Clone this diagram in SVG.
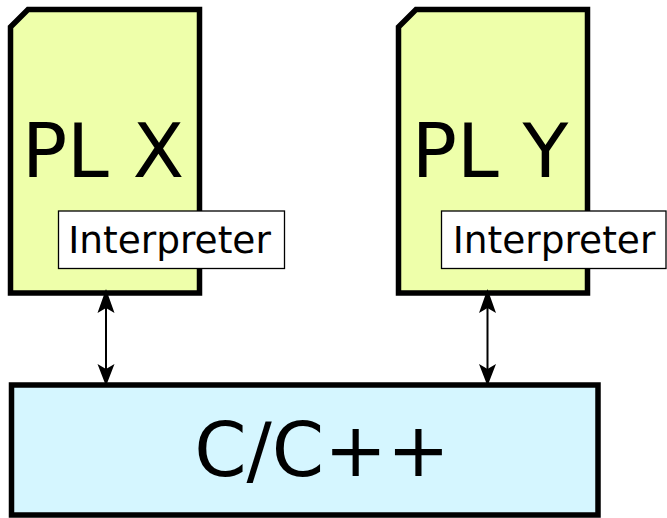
<svg xmlns="http://www.w3.org/2000/svg" width="667" height="518" viewBox="0 0 667 518">
<style>
.pl{fill:#eeffaa;stroke:#000;stroke-width:5.5}
.cc{fill:#d5f6ff;stroke:#000;stroke-width:5.5}
.ib{fill:#fff;stroke:#000;stroke-width:1.3}
.big{font-family:"DejaVu Sans",sans-serif;font-size:75px;fill:#000;text-anchor:middle}
.small{font-family:"DejaVu Sans",sans-serif;font-size:37.5px;fill:#000;text-anchor:middle}
.ln{stroke:#000;stroke-width:2;fill:none}
.ah{fill:#000;stroke:none}
</style>
<g id="cpp">
<rect class="cc" x="11.5" y="385" width="586.5" height="130"/>
<text class="big" x="322" y="476">C/C++</text>
</g>
<g id="plx">
<path class="pl" d="M10.5,27 L28,9.5 L199.5,9.5 L199.5,293 L10.5,293 Z"/>
<text class="big" x="103" y="177">PL X</text>
<rect class="ib" x="58.5" y="211" width="226" height="57.5"/>
<text class="small" x="169.5" y="253">Interpreter</text>
</g>
<g id="ply">
<path class="pl" d="M398.5,27 L416,9.5 L587.5,9.5 L587.5,293 L398.5,293 Z"/>
<text class="big" x="490" y="177">PL Y</text>
<rect class="ib" x="441.5" y="211" width="224.5" height="57.5"/>
<text class="small" x="554" y="253">Interpreter</text>
</g>
<g id="connectors">
<line class="ln" x1="106" y1="305" x2="106" y2="372"/>
<path class="ah" d="M106,289 L114.5,313 L106,308 L97.5,313 Z"/>
<path class="ah" d="M106,386 L114.5,364 L106,369 L97.5,364 Z"/>
<line class="ln" x1="487.5" y1="305" x2="487.5" y2="372"/>
<path class="ah" d="M487.5,289 L496,313 L487.5,308 L479,313 Z"/>
<path class="ah" d="M487.5,386 L496,364 L487.5,369 L479,364 Z"/>
</g>
</svg>
